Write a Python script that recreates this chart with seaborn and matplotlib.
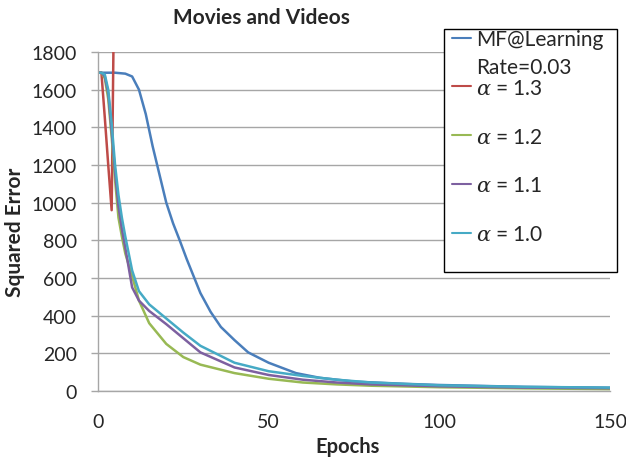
import matplotlib
matplotlib.use("Agg")
import matplotlib.pyplot as plt
import matplotlib.patches as mpatches
import numpy as np
import pandas as pd
import seaborn as sns

# values
mf_epochs = [0, 5, 8, 10, 12, 14, 16, 18, 20, 22, 24, 26, 28, 30, 33, 36, 40, 44,
             50, 58, 65, 75, 90, 100, 125, 150]
mf_error = [1690, 1690, 1685, 1670, 1600, 1470, 1300, 1150, 1000, 890, 797, 700,
            610, 520, 420, 340, 270, 205, 150, 95, 70, 50, 38, 32, 22, 17]

a13_epochs = [0, 1, 2, 3, 4, 5]
a13_error = [1690, 1690, 1450, 1200, 960, 2600]

alpha_epochs = [0, 1, 2, 3, 4, 5, 6, 7, 8, 10, 12, 15, 20, 25, 30, 40, 50, 60,
                70, 80, 100, 125, 150]
a12_error = [1690, 1690, 1660, 1550, 1350, 1120, 920, 820, 730, 610, 480, 360,
             250, 180, 140, 95, 65, 45, 35, 28, 20, 14, 10]
a11_error = [1690, 1690, 1670, 1580, 1380, 1160, 980, 860, 760, 550, 480, 425,
             355, 280, 205, 125, 85, 60, 45, 35, 25, 18, 15]
a10_error = [1690, 1690, 1680, 1600, 1420, 1200, 1040, 920, 820, 640, 530, 460,
             385, 310, 240, 150, 105, 80, 60, 45, 30, 22, 18]

series = ["MF", "1.3", "1.2", "1.1", "1.0"]
labels = ["MF@Learning", r"$\alpha$ = 1.3", r"$\alpha$ = 1.2",
          r"$\alpha$ = 1.1", r"$\alpha$ = 1.0"]
label_extra = "Rate=0.03"  # second line of the MF entry
colors = ["#4A7EBB", "#BE4B48", "#98B954", "#7D60A0", "#46AAC5"]

frames = []
for name, ep, err in zip(
    series,
    [mf_epochs, a13_epochs, alpha_epochs, alpha_epochs, alpha_epochs],
    [mf_error, a13_error, a12_error, a11_error, a10_error],
):
    frames.append(pd.DataFrame({"epoch": ep, "error": err, "series": name}))
df = pd.concat(frames, ignore_index=True)

sns.set_style("white")
plt.rcParams["font.family"] = ["Lato", "DejaVu Sans"]
plt.rcParams["mathtext.fontset"] = "dejavuserif"

W, H = 626, 460
fig = plt.figure(figsize=(W / 100, H / 100), dpi=100)
ax = fig.add_axes([98 / W, 68 / H, 512 / W, 339 / H])

sns.lineplot(data=df, x="epoch", y="error", hue="series", hue_order=series,
             palette=colors, linewidth=1.8, legend=False, ax=ax, sort=False)

ax.set_xlim(0, 150)
ax.set_ylim(0, 1800)
ax.set_xticks([0, 50, 100, 150])
ax.set_yticks(np.arange(0, 1801, 200))
ax.yaxis.grid(True, color="#A6A6A6", linewidth=1)
ax.xaxis.grid(False)
for side in ["top", "right"]:
    ax.spines[side].set_visible(False)
for side in ["left", "bottom"]:
    ax.spines[side].set_color("#A6A6A6")
    ax.spines[side].set_linewidth(1)
ax.tick_params(axis="y", left=True, length=5, width=1, color="#A6A6A6",
               labelsize=14, pad=10)
ax.tick_params(axis="x", bottom=False, labelsize=14, pad=12)

ax.set_xlabel("Epochs", fontsize=14.5, fontweight="bold", va="center")
ax.xaxis.set_label_coords(0.488, -55 / 339)
ax.set_ylabel("Squared Error", fontsize=15, fontweight="bold")
ax.yaxis.set_label_coords(-73 / 512, 0.472)
fig.text(261 / W, 1 - 18 / H, "Movies and Videos", ha="center", va="center",
         fontsize=15, fontweight="bold")

# legend box (white, covers the grid like the original)
frame = mpatches.Rectangle((444 / W, 1 - 273 / H), 173 / W, 243 / H,
                           transform=fig.transFigure, facecolor="white",
                           edgecolor="black", linewidth=1, zorder=2)
fig.patches.append(frame)

leg = fig.legend(ax.get_lines()[:len(series)], labels, loc="upper left",
                 bbox_to_anchor=(452 / W, 1 - 30 / H), frameon=False,
                 fontsize=15, handlelength=0.9, handletextpad=0.25,
                 labelspacing=1.38, borderpad=0, borderaxespad=0)
leg.set_zorder(5)
for line in leg.get_lines():
    line.set_linewidth(1.5)

# second line of the first entry, just under "MF@Learning"
fig.canvas.draw()
bb = leg.get_texts()[0].get_window_extent()
fig.text(bb.x0 / W, (bb.y0 - 8) / H, label_extra, ha="left", va="top",
         fontsize=15, zorder=5)

fig.savefig("out.png", dpi=100)
